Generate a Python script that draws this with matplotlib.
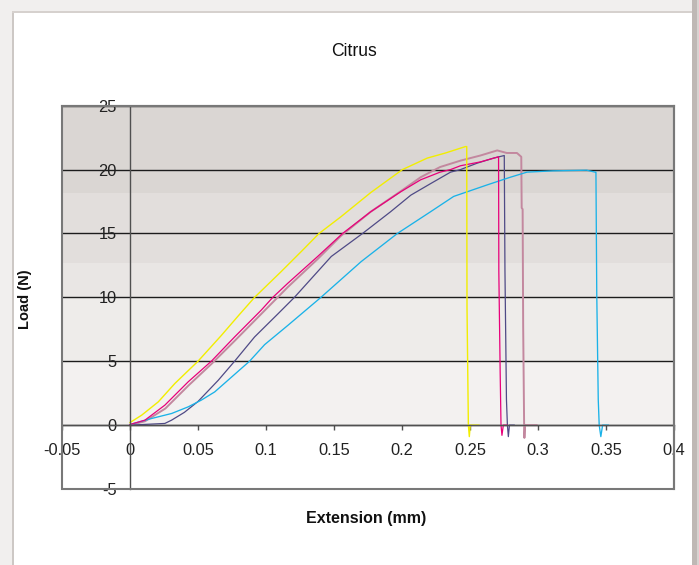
import matplotlib
matplotlib.use('Agg')
import matplotlib.pyplot as plt
from matplotlib.patches import Rectangle

# test curves (extension mm, load N)
yellow_x = [0, 0.0086, 0.0208, 0.033, 0.050, 0.067, 0.080, 0.0916, 0.111, 0.127, 0.139, 0.155,
            0.177, 0.2003, 0.2186, 0.232, 0.2466, 0.2476, 0.2478, 0.2488, 0.2495, 0.2502, 0.2565]
yellow_y = [0.2, 0.78, 1.82, 3.26, 5.0, 7.0, 8.6, 10.0, 12.0, 13.7, 15.0, 16.3,
            18.2, 20.0, 20.9, 21.3, 21.8, 21.8, 9.2, 0.0, -0.9, 0.0, 0.0]

magenta_x = [0, 0.011, 0.0256, 0.0428, 0.0598, 0.0769, 0.0965, 0.105, 0.116, 0.138, 0.1563, 0.177,
             0.199, 0.2137, 0.228, 0.2357, 0.243, 0.2576, 0.271, 0.2712, 0.2722, 0.2728, 0.2735,
             0.2745, 0.2772]
magenta_y = [0.05, 0.39, 1.56, 3.39, 5.0, 6.9, 9.0, 10.0, 11.1, 13.2, 15.0, 16.7,
             18.26, 19.2, 19.8, 20.0, 20.3, 20.6, 21.0, 12.0, 4.0, 0.0, -0.8,
             0.0, 0.0]

mauve_x = [0, 0.011, 0.026, 0.043, 0.060, 0.077, 0.0965, 0.116, 0.138, 0.155, 0.177, 0.199,
           0.2137, 0.228, 0.243, 0.2576, 0.270, 0.277, 0.2845, 0.2877, 0.288, 0.2887, 0.2891,
           0.2898, 0.290, 0.2905, 0.299]
mauve_y = [0.0, 0.3, 1.3, 3.1, 4.8, 6.6, 8.7, 10.8, 13.0, 14.8, 16.7, 18.3,
           19.4, 20.2, 20.7, 21.1, 21.5, 21.3, 21.3, 21.0, 17.0, 16.9, 7.7,
           0.0, -1.0, 0.0, 0.0]

purple_x = [0, 0.0256, 0.0306, 0.040, 0.050, 0.0648, 0.0769, 0.0916, 0.1087, 0.1209, 0.148, 0.171,
            0.1916, 0.2065, 0.221, 0.2357, 0.243, 0.2552, 0.2674, 0.2752, 0.2757, 0.2768, 0.2775,
            0.2782, 0.279, 0.2825]
purple_y = [0.0, 0.13, 0.39, 1.0, 1.85, 3.5, 5.0, 6.9, 8.7, 10.0, 13.2, 15.0,
            16.7, 18.0, 18.9, 19.8, 20.0, 20.5, 20.9, 21.1, 12.1, 2.0, 0.0,
            -0.9, 0.0, 0.0]

cyan_x = [0, 0.0159, 0.0306, 0.0428, 0.0525, 0.0623, 0.0879, 0.099, 0.116, 0.1404, 0.170, 0.1966,
          0.221, 0.238, 0.2626, 0.2796, 0.2919, 0.311, 0.3358, 0.342, 0.3426, 0.3432, 0.3443,
          0.3450, 0.3462, 0.3475, 0.3517]
cyan_y = [0.05, 0.52, 0.91, 1.43, 1.96, 2.6, 5.0, 6.3, 7.8, 10.0, 12.8, 15.0,
          16.7, 17.9, 18.8, 19.4, 19.8, 19.9, 19.95, 19.8, 19.8, 10.3, 2.0,
          0.0, -0.9, 0.0, 0.0]

x_ticks = [-0.05, 0, 0.05, 0.1, 0.15, 0.2, 0.25, 0.3, 0.35, 0.4]
x_tick_labels = ['-0.05', '0', '0.05', '0.1', '0.15', '0.2', '0.25', '0.3', '0.35', '0.4']
y_ticks = [-5, 0, 5, 10, 15, 20, 25]
y_tick_labels = ['-5', '0', '5', '10', '15', '20', '25']

W, H = 699, 565
fig = plt.figure(figsize=(W / 100, H / 100), dpi=100)
fig.patch.set_facecolor('#f1efee')


def frame_rect(x0, y0, x1, y1, color):
    # pixel box, origin top-left
    fig.patches.append(Rectangle((x0 / W, 1 - y1 / H), (x1 - x0) / W, (y1 - y0) / H,
                                 transform=fig.transFigure, facecolor=color,
                                 edgecolor='none', zorder=-10))


# chart frame / shadow
frame_rect(14, 13, 692, H, 'white')
frame_rect(12, 12, 14, H, '#cdc8c5')
frame_rect(12, 11, 692, 13, '#d6d1ce')
frame_rect(692, 0, 699, H, '#bfb8b5')
frame_rect(697, 0, 699, H, '#d8d3d1')

ax = fig.add_axes([62 / W, 1 - 489 / H, 612 / W, 383.3 / H])
ax.set_facecolor('white')
ax.set_xlim(-0.05, 0.4)
ax.set_ylim(-5, 25)

# banded grey fill above zero (Excel-style gradient)
bands = [(0, 5, '#f3f1f0'), (5, 10, '#eeecea'), (10, 12.7, '#e9e6e4'),
         (12.7, 18.2, '#e2dedc'), (18.2, 25, '#dad6d3')]
for lo, hi, c in bands:
    ax.axhspan(lo, hi, color=c, lw=0, zorder=0)

ax.yaxis.grid(True, color='#1c1c1c', lw=1.0, zorder=1)
ax.set_axisbelow(True)

ax.plot(mauve_x, mauve_y, color='#c3889f', lw=1.4, zorder=3)
ax.plot(purple_x, purple_y, color='#4f4a86', lw=0.9, zorder=3)
ax.plot(cyan_x, cyan_y, color='#1ab2e8', lw=0.95, zorder=3)
ax.plot(magenta_x, magenta_y, color='#e8007a', lw=0.9, zorder=4)
ax.plot(yellow_x, yellow_y, color='#f2ee00', lw=1.0, zorder=4)

# axes cross at the origin
ax.spines['left'].set_position(('data', 0))
ax.spines['bottom'].set_position(('data', 0))
for s in ['left', 'bottom']:
    ax.spines[s].set_color('#505050')
    ax.spines[s].set_linewidth(1.0)
    ax.spines[s].set_zorder(5)
for s in ['top', 'right']:
    ax.spines[s].set_color('#787878')
    ax.spines[s].set_linewidth(1.5)
ax.add_patch(Rectangle((0, 0), 1, 1, transform=ax.transAxes, fill=False,
                       edgecolor='#787878', lw=1.5, zorder=6, clip_on=False))

tick_font = ['Liberation Sans', 'DejaVu Sans']
ax.set_xticks(x_ticks)
ax.set_xticklabels(x_tick_labels, family=tick_font, fontsize=11.8, color='#222222')
ax.set_yticks(y_ticks)
ax.set_yticklabels(y_tick_labels, family=tick_font, fontsize=11.8, color='#222222')
ax.tick_params(axis='x', direction='out', length=3.6, width=1.0, color='#505050', pad=9)
ax.tick_params(axis='y', length=0, pad=9.5)

fig.text(354 / W, 1 - 52 / H, 'Citrus', ha='center', va='center',
         family=['Liberation Sans', 'DejaVu Sans'], fontsize=12.7, color='#111111')
fig.text(366 / W, 1 - 518 / H, 'Extension (mm)', ha='center', va='center',
         family=['Liberation Sans', 'DejaVu Sans'], fontsize=11.5, fontweight='bold', color='#111111')
fig.text(25 / W, 1 - 299 / H, 'Load (N)', ha='center', va='center', rotation=90,
         family=['Liberation Sans', 'DejaVu Sans'], fontsize=10.5, fontweight='bold', color='#111111')

fig.savefig('out.png', dpi=100, facecolor=fig.get_facecolor())
